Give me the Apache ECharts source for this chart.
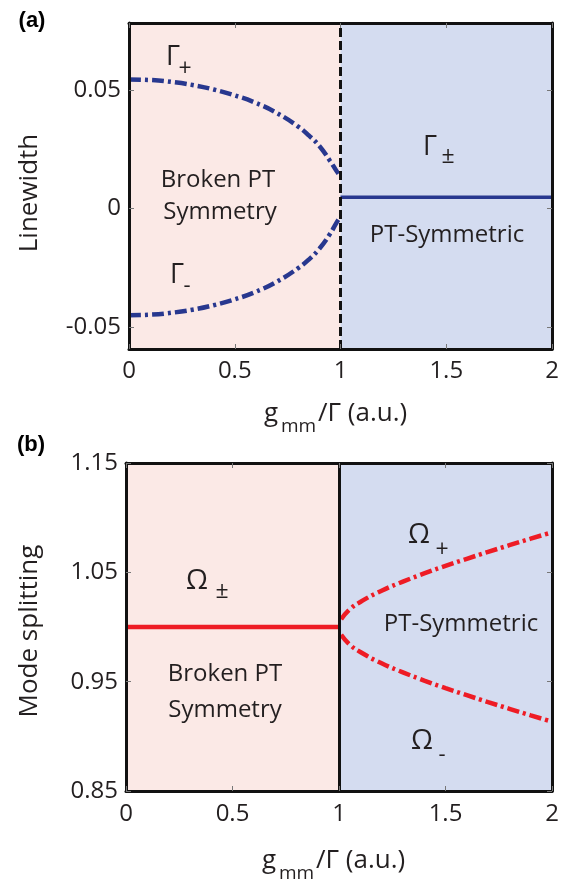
<!DOCTYPE html>
<html>
<head>
<meta charset="utf-8">
<script src="https://cdn.jsdelivr.net/npm/echarts@6/dist/echarts.min.js"></script>
<style>
html,body{margin:0;padding:0;background:#fff;}
#main{width:569px;height:881px;}
</style>
</head>
<body>
<div id="main"></div>
<script>
//横轴 g_mm/Γ
var xTicks=[0,0.5,1,1.5,2];
var epPoint=1;

//(a) Linewidth
var lwTicks=[-0.05,0,0.05];
var gBroken=[0,0.1,0.2,0.3,0.4,0.5,0.6,0.7,0.8,0.85,0.9,0.95,0.98,0.99];
var gammaPlus=[0.0545,0.0543,0.0535,0.0522,0.0503,0.0478,0.0446,0.0403,0.0346,0.0309,0.0264,0.0202,0.0160,0.0147];
var gammaMinus=[-0.0451,-0.0449,-0.0441,-0.0428,-0.0409,-0.0384,-0.0352,-0.0309,-0.0252,-0.0216,-0.0170,-0.0108,-0.0062,-0.0048];
var gSym=[1,2];
var gammaPM=[0.0047,0.0047];

//(b) Mode splitting
var msTicks=[0.85,0.95,1.05,1.15];
var gFlat=[0,1];
var omegaPM=[1,1];
var gSplit=[1.01,1.05,1.1,1.2,1.3,1.4,1.5,1.6,1.7,1.8,1.9,2.0];
var omegaPlus=[1.0071,1.016,1.0229,1.0332,1.0415,1.049,1.0559,1.0624,1.0687,1.0748,1.0808,1.0866];
var omegaMinus=[0.9929,0.984,0.9771,0.9668,0.9585,0.951,0.9441,0.9376,0.9313,0.9252,0.9192,0.9134];

var FONT='"Open Sans", sans-serif';
var TXT='#231f20';
var BLUE='#28388f';
var RED='#ee1c25';
var PINK='#fbe9e6';
var LBLUE='#d4dcf0';
var DASHDOT=[12,4,3,4];

function zip(xs,ys){
    var out=[];
    for(var i=0;i<xs.length;i++){ out.push([xs[i],ys[i]]); }
    return out;
}

function xAx(gi,pos,showLabel,margin){
    return {
        type:'value',gridIndex:gi,position:pos,min:xTicks[0],max:xTicks[xTicks.length-1],interval:0.5,z:5,
        axisLine:{show:true,onZero:false,lineStyle:{color:'#111',width:3}},
        axisTick:{show:true,inside:true,length:5,lineStyle:{color:'#777',width:1}},
        axisLabel:{show:showLabel,margin:margin,fontFamily:FONT,fontSize:24,color:TXT},
        splitLine:{show:false}
    };
}
function yAx(gi,pos,showLabel,lo,hi,ticks){
    return {
        type:'value',gridIndex:gi,position:pos,min:lo,max:hi,z:5,
        axisLine:{show:true,onZero:false,lineStyle:{color:'#111',width:3}},
        axisTick:{show:true,inside:true,length:5,customValues:ticks,lineStyle:{color:'#777',width:1}},
        axisLabel:{show:showLabel,margin:8,customValues:ticks,fontFamily:FONT,fontSize:24,color:TXT},
        splitLine:{show:false}
    };
}

//背景区域
function regions(){
    return {
        silent:true,
        data:[
            [{xAxis:0,itemStyle:{color:PINK}},{xAxis:epPoint}],
            [{xAxis:epPoint,itemStyle:{color:LBLUE}},{xAxis:2}]
        ]
    };
}
function vline(type){
    return {
        silent:true,symbol:['none','none'],label:{show:false},
        lineStyle:{color:'#111',width:3,type:type},
        data:[{xAxis:epPoint}]
    };
}

function txt(x,y,s,size,extra){
    var st={text:s,x:x,y:y,fill:TXT,font:(size||24)+'px '+FONT,textAlign:'center',textVerticalAlign:'middle'};
    if(extra){ for(var k in extra){ st[k]=extra[k]; } }
    return {type:'text',z:50,style:st};
}
function vtxt(x,y,s,size){
    return {type:'text',z:50,x:x,y:y,rotation:Math.PI/2,
        style:{text:s,x:0,y:0,fill:TXT,font:size+'px '+FONT,textAlign:'center',textVerticalAlign:'middle'}};
}

var graphics=[
    txt(32,21,'(a)',22,{font:'bold 22px "Liberation Sans", Arial, sans-serif',fill:'#000'}),
    txt(31,445,'(b)',22,{font:'bold 22px "Liberation Sans", Arial, sans-serif',fill:'#000'}),
    vtxt(30,193,'Linewidth',26),
    vtxt(30,631,'Mode splitting',26),
    //横轴标题
    txt(264,414,'g',26,{textAlign:'left'}),
    txt(281,427,'mm',19,{textAlign:'left'}),
    txt(318,414,'/Γ (a.u.)',26,{textAlign:'left'}),
    txt(262,861,'g',26,{textAlign:'left'}),
    txt(279,874,'mm',19,{textAlign:'left'}),
    txt(316,861,'/Γ (a.u.)',26,{textAlign:'left'}),
    //(a) 注释
    txt(173,57,'Γ',27),
    txt(185,69,'+',23),
    txt(177,275,'Γ',27),
    txt(187,286,'-',22),
    txt(430,147,'Γ',27),
    txt(448,156,'±',23),
    txt(218,180,'Broken PT',24),
    txt(220,212,'Symmetry',24),
    txt(447,235,'PT-Symmetric',24),
    //(b) 注释
    txt(197,581,'Ω',28),
    txt(222,591,'±',23),
    txt(225,674,'Broken PT',24),
    txt(225,710,'Symmetry',24),
    txt(419,535,'Ω',28),
    txt(442,550,'+',23),
    txt(461,624,'PT-Symmetric',24),
    txt(422,741,'Ω',28),
    txt(442,755,'-',22)
];

var option={
    animation:false,
    backgroundColor:'#fff',
    grid:[
        {left:129,right:17,top:23,height:326},
        {left:126,right:17,top:463,height:328}
    ],
    xAxis:[
        xAx(0,'bottom',true,10),
        xAx(0,'top',false,8),
        xAx(1,'bottom',true,11),
        xAx(1,'top',false,8)
    ],
    yAxis:[
        yAx(0,'left',true,-0.0594,0.0784,lwTicks),
        yAx(0,'right',false,-0.0594,0.0784,lwTicks),
        yAx(1,'left',true,0.85,1.15,msTicks),
        yAx(1,'right',false,0.85,1.15,msTicks)
    ],
    series:[
        {
            type:'line',xAxisIndex:0,yAxisIndex:0,z:1,
            data:zip(gSym,gammaPM),showSymbol:false,
            lineStyle:{color:BLUE,width:3.5},
            markArea:regions(),
            markLine:vline([9,4])
        },
        {
            type:'line',xAxisIndex:0,yAxisIndex:0,z:3,
            data:zip(gBroken,gammaPlus),showSymbol:false,smooth:true,
            lineStyle:{color:BLUE,width:4.5,type:DASHDOT}
        },
        {
            type:'line',xAxisIndex:0,yAxisIndex:0,z:3,
            data:zip(gBroken,gammaMinus),showSymbol:false,smooth:true,
            lineStyle:{color:BLUE,width:4.5,type:DASHDOT}
        },
        {
            type:'line',xAxisIndex:2,yAxisIndex:2,z:1,
            data:zip(gFlat,omegaPM),showSymbol:false,
            lineStyle:{color:RED,width:4.5},
            markArea:regions(),
            markLine:vline('solid')
        },
        {
            type:'line',xAxisIndex:2,yAxisIndex:2,z:3,
            data:zip(gSplit,omegaPlus),showSymbol:false,smooth:true,
            lineStyle:{color:RED,width:4.5,type:DASHDOT}
        },
        {
            type:'line',xAxisIndex:2,yAxisIndex:2,z:3,
            data:zip(gSplit,omegaMinus),showSymbol:false,smooth:true,
            lineStyle:{color:RED,width:4.5,type:DASHDOT}
        }
    ],
    graphic:graphics
};

var myChart=echarts.init(document.getElementById('main'),null,{renderer:'canvas'});
myChart.setOption(option);
</script>
</body>
</html>
